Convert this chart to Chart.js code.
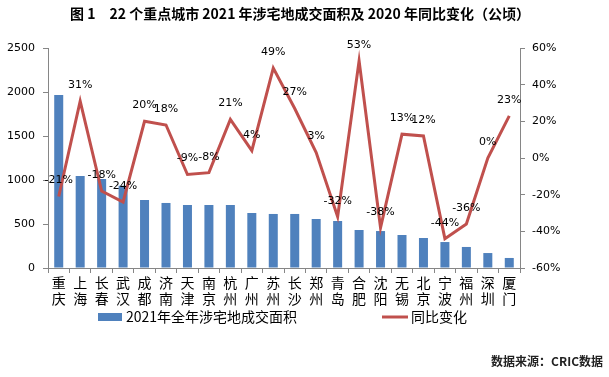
<!DOCTYPE html>
<html>
<head>
<meta charset="utf-8">
<script src="https://cdn.jsdelivr.net/npm/chart.js@4"></script>
<style>
html,body{margin:0;padding:0;background:#fff;}
#c{display:block;}
</style>
</head>
<body>
<canvas id="c" width="609" height="377"></canvas>
<script>
const cities = [['重','庆'],['上','海'],['长','春'],['武','汉'],['成','都'],['济','南'],['天','津'],['南','京'],['杭','州'],['广','州'],['苏','州'],['长','沙'],['郑','州'],['青','岛'],['合','肥'],['沈','阳'],['无','锡'],['北','京'],['宁','波'],['福','州'],['深','圳'],['厦','门']];
const landArea = [1965,1045,1011,935,773,739,716,716,716,625,614,614,557,534,432,420,375,341,295,239,170,114];
const yoyChange = [-21,31,-18,-24,20,18,-9,-8,21,4,49,27,3,-32,53,-38,13,12,-44,-36,0,23];
const leftTicks = [0,500,1000,1500,2000,2500];
const rightTicks = [-60,-40,-20,0,20,40,60];
const titleText = '图 1　22 个重点城市 2021 年涉宅地成交面积及 2020 年同比变化（公顷）';
const barLabel = '2021年全年涉宅地成交面积';
const lineLabel = '同比变化';
const sourceText = '数据来源：CRIC数据';

const BAR = '#4F81BD', LINE = '#C0504D', AXIS = '#868686';
const NUMFONT = '"DejaVu Sans", "Noto Sans CJK SC", sans-serif';
const CJK = '"Noto Sans CJK SC", sans-serif';

const extras = {
  id: 'extras',
  afterDatasetsDraw(chart) {
    const ctx = chart.ctx;
    const meta = chart.getDatasetMeta(1);
    ctx.save();
    ctx.font = '11px ' + NUMFONT;
    ctx.fillStyle = '#000';
    ctx.textAlign = 'center';
    ctx.textBaseline = 'middle';
    meta.data.forEach((pt, i) => {
      ctx.fillText(yoyChange[i] + '%', pt.x, pt.y - 16);
    });
    ctx.restore();
  },
  afterDraw(chart) {
    const ctx = chart.ctx;
    ctx.save();
    ctx.font = 'bold 14px ' + CJK;
    ctx.fillStyle = '#000';
    ctx.textAlign = 'center';
    ctx.textBaseline = 'middle';
    ctx.fillText(titleText, 300, 14);
    ctx.fillStyle = BAR;
    ctx.fillRect(98, 313, 24, 8);
    ctx.font = '14px ' + CJK;
    ctx.fillStyle = '#000';
    ctx.textAlign = 'left';
    ctx.fillText(barLabel, 126, 317);
    ctx.strokeStyle = LINE;
    ctx.lineWidth = 3;
    ctx.beginPath();
    ctx.moveTo(382, 317);
    ctx.lineTo(408, 317);
    ctx.stroke();
    ctx.fillText(lineLabel, 411, 317);
    ctx.font = 'bold 12px ' + CJK;
    ctx.fillStyle = '#222';
    ctx.textAlign = 'right';
    ctx.fillText(sourceText, 603, 361);
    ctx.restore();
  }
};

new Chart(document.getElementById('c'), {
  type: 'bar',
  data: {
    labels: cities,
    datasets: [
      {
        label: barLabel,
        data: landArea,
        backgroundColor: BAR,
        yAxisID: 'y',
        barPercentage: 0.42,
        categoryPercentage: 1.0,
        order: 2
      },
      {
        type: 'line',
        label: lineLabel,
        data: yoyChange,
        borderColor: LINE,
        backgroundColor: LINE,
        borderWidth: 3,
        pointRadius: 0,
        tension: 0,
        yAxisID: 'y1',
        order: 1
      }
    ]
  },
  options: {
    responsive: false,
    devicePixelRatio: 1,
    animation: false,
    layout: { padding: { top: 48, bottom: 0, left: 0, right: 0 } },
    plugins: { legend: { display: false }, title: { display: false }, tooltip: { enabled: false } },
    scales: {
      x: {
        offset: true,
        grid: { display: true, drawOnChartArea: false, drawTicks: true, tickLength: 5, color: AXIS, offset: true },
        border: { display: true, color: AXIS, width: 1 },
        ticks: { color: '#000', font: { family: CJK, size: 14, lineHeight: 1.15 }, padding: 2, maxRotation: 0, autoSkip: false },
        afterFit(s) { s.height = 109; }
      },
      y: {
        position: 'left',
        min: 0, max: 2500,
        afterBuildTicks(s) { s.ticks = leftTicks.map(v => ({ value: v })); },
        grid: { display: true, drawOnChartArea: false, drawTicks: true, tickLength: 5, color: AXIS },
        border: { display: true, color: AXIS, width: 1 },
        ticks: { color: '#000', font: { family: NUMFONT, size: 11 }, padding: 8, callback: v => String(v) },
        afterFit(s) { s.width = 48; }
      },
      y1: {
        position: 'right',
        min: -60, max: 60,
        afterBuildTicks(s) { s.ticks = rightTicks.map(v => ({ value: v })); },
        grid: { display: true, drawOnChartArea: false, drawTicks: true, tickLength: 5, color: AXIS },
        border: { display: true, color: AXIS, width: 1 },
        ticks: { color: '#000', font: { family: NUMFONT, size: 11 }, padding: 7, callback: v => v + '%' },
        afterFit(s) { s.width = 89; }
      }
    }
  },
  plugins: [extras]
});
</script>
</body>
</html>
